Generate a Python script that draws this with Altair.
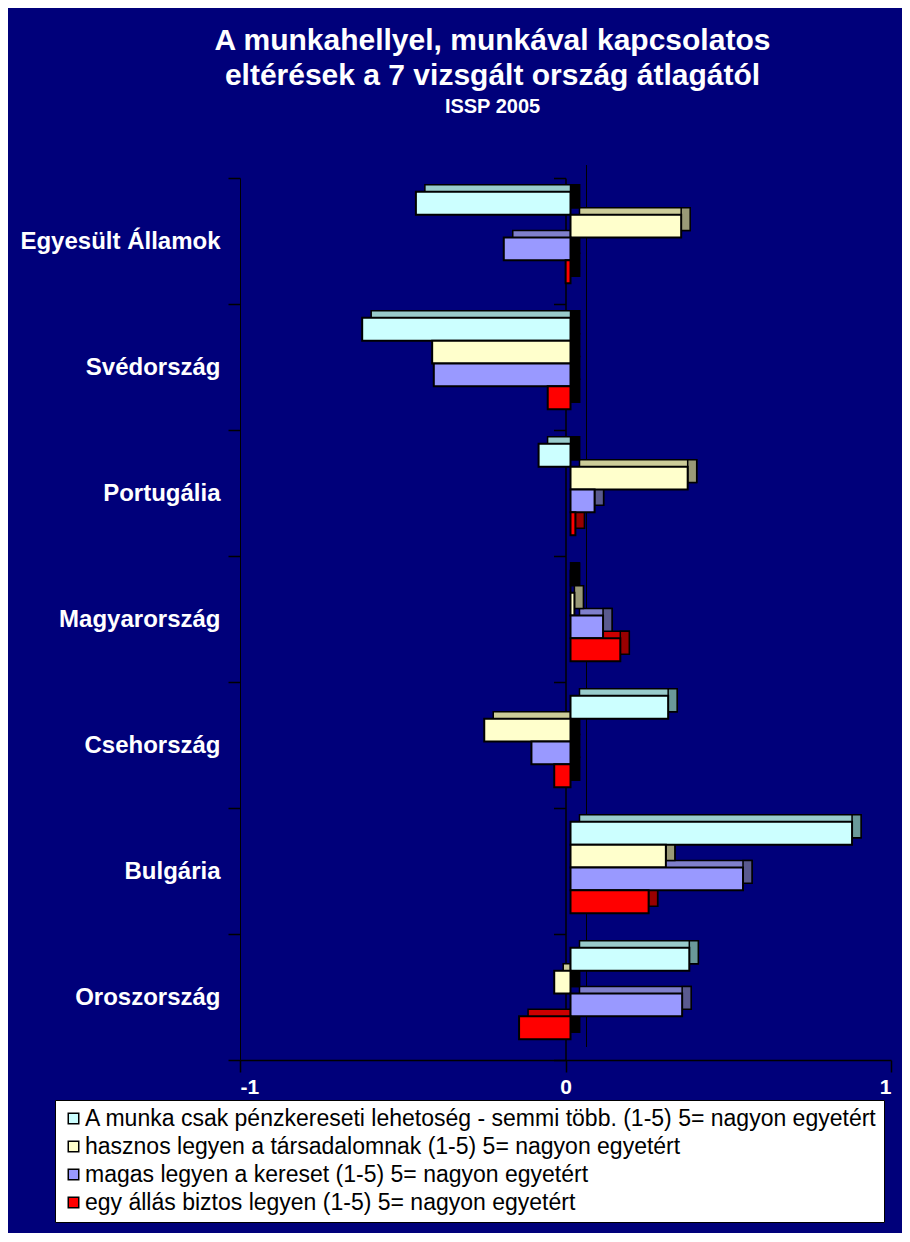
import altair as alt
import pandas as pd

countries = ["Egyesült Államok", "Svédország", "Portugália", "Magyarország",
             "Csehország", "Bulgária", "Oroszország"]
series = [
    "A munka csak pénzkereseti lehetoség - semmi több. (1-5) 5= nagyon egyetért",
    "hasznos legyen a társadalomnak (1-5) 5= nagyon egyetért",
    "magas legyen a kereset (1-5) 5= nagyon egyetért",
    "egy állás biztos legyen (1-5) 5= nagyon egyetért",
]
penz = [-0.475, -0.64, -0.098, 0.0, 0.30, 0.865, 0.365]
hasznos = [0.34, -0.425, 0.36, 0.012, -0.265, 0.293, -0.05]
magas = [-0.205, -0.42, 0.074, 0.10, -0.12, 0.53, 0.343]
biztos = [-0.015, -0.07, 0.015, 0.153, -0.05, 0.24, -0.158]

front_colors = ["#CCFFFF", "#FFFFCC", "#9999FF", "#FF0000"]
top_colors = ["#99CCCC", "#CCCC99", "#7F7FCC", "#CC0000"]
side_colors = ["#6A9999", "#999977", "#5A5A8E", "#990000"]

values = [penz, hasznos, magas, biztos]
rows = []
for ci, c in enumerate(countries):
    for si, s in enumerate(series):
        v = values[si][ci]
        rows.append({
            "country": c, "series": s, "value": v, "zero": 0.0,
            "sidex": max(v, 0.0),
            "top": top_colors[si],
            "side": side_colors[si] if v > 0 else "#000000",
        })
df = pd.DataFrame(rows)

W, H = 651, 882
FONT = "Liberation Sans"
DX, DY = 9, 7          # depth of the 3D look in pixels
STEP = H / len(countries)
GROUP = STEP * 0.725   # height of the four bars of one country
START = (STEP - GROUP) / 2 - 3.5

xscale = alt.Scale(domain=[-1, 1], nice=False)
xaxis = alt.Axis(title=None, values=[-1, 0, 1], labelExpr="'' + datum.value",
                 grid=False, tickSize=12, tickColor="black", domainColor="black",
                 labelColor="white", labelFont=FONT, labelFontSize=21,
                 labelFontWeight="bold", labelPadding=4, domainWidth=1.5, tickWidth=1.5)
yscale = alt.Scale(domain=countries, paddingInner=0, paddingOuter=0)


def yoff(shift):
    return alt.YOffset("series:N", sort=series,
                       scale=alt.Scale(domain=series, paddingInner=0, paddingOuter=0,
                                       range=[START + shift, START + GROUP + shift]))


base = alt.Chart(df)

top_face = base.mark_bar(stroke="black", strokeWidth=1.5, xOffset=5 + DX, x2Offset=5 + DX).encode(
    x=alt.X("value:Q", scale=xscale, axis=xaxis),
    x2="zero:Q",
    y=alt.Y("country:N", sort=countries, scale=yscale, axis=None),
    yOffset=yoff(-DY),
    fill=alt.Fill("top:N", scale=None),
)

side_face = base.mark_bar(stroke="black", strokeWidth=1.5, xOffset=5, x2Offset=5 + DX).encode(
    x=alt.X("sidex:Q", scale=xscale, axis=xaxis),
    x2="sidex:Q",
    y=alt.Y("country:N", sort=countries, scale=yscale,
            axis=alt.Axis(title=None, orient="left", labels=False, tickBand="extent",
                          tickSize=12, tickColor="black", domainColor="black",
                          offset=-W / 2, tickWidth=1.5, domainWidth=1.5)),
    yOffset=yoff(-DY),
    fill=alt.Fill("side:N", scale=None),
)

front = base.mark_bar(stroke="black", strokeWidth=2, xOffset=5, x2Offset=5).encode(
    x=alt.X("value:Q", scale=xscale, axis=xaxis),
    x2="zero:Q",
    y=alt.Y("country:N", sort=countries, scale=yscale,
            axis=alt.Axis(title=None, orient="left", tickBand="extent", tickSize=12,
                          tickColor="black", domainColor="black", labelColor="white",
                          labelFont=FONT, labelFontSize=24, labelFontWeight="bold",
                          labelPadding=8, labelLimit=400, domainWidth=1, tickWidth=1.5)),
    yOffset=yoff(0),
    fill=alt.Fill("series:N", sort=series,
                  scale=alt.Scale(domain=series, range=front_colors),
                  legend=alt.Legend(title=None, orient="none", legendX=-185, legendY=922,
                                    fillColor="white", strokeColor="black", padding=7,
                                    labelFont=FONT, labelFontSize=23, labelColor="black",
                                    labelLimit=1000, symbolType="square", symbolSize=110,
                                    symbolStrokeColor="black", symbolStrokeWidth=1.5,
                                    rowPadding=4, labelOffset=0)),
)

back_line = alt.Chart(pd.DataFrame({"z": [0.0]})).mark_rule(
    color="black", strokeWidth=1, xOffset=21, yOffset=-13, y2Offset=-13).encode(
    x=alt.X("z:Q", scale=xscale, axis=xaxis),
    y=alt.value(0), y2=alt.value(H),
)

chart = alt.layer(back_line, top_face, side_face, front).resolve_axis(
    y="independent").resolve_scale(yOffset="independent").properties(
    width=W, height=H,
    autosize=alt.AutoSizeParams(type="none"),
    padding={"left": 232, "top": 170, "right": 11, "bottom": 173},
    background="#00007A",
    title=alt.Title(
        text=["A munkahellyel, munkával kapcsolatos", "eltérések a 7 vizsgált ország átlagától"],
        subtitle="ISSP 2005", color="white", font=FONT, fontSize=30, fontWeight="bold",
        lineHeight=35, subtitleColor="white", subtitleFont=FONT, subtitleFontSize=20,
        subtitleFontWeight="bold", subtitlePadding=6, anchor="middle", dx=-73, offset=48,
    ),
).configure_view(stroke=None)

chart.save("out.html", embed_options={"renderer": "svg", "actions": False})
